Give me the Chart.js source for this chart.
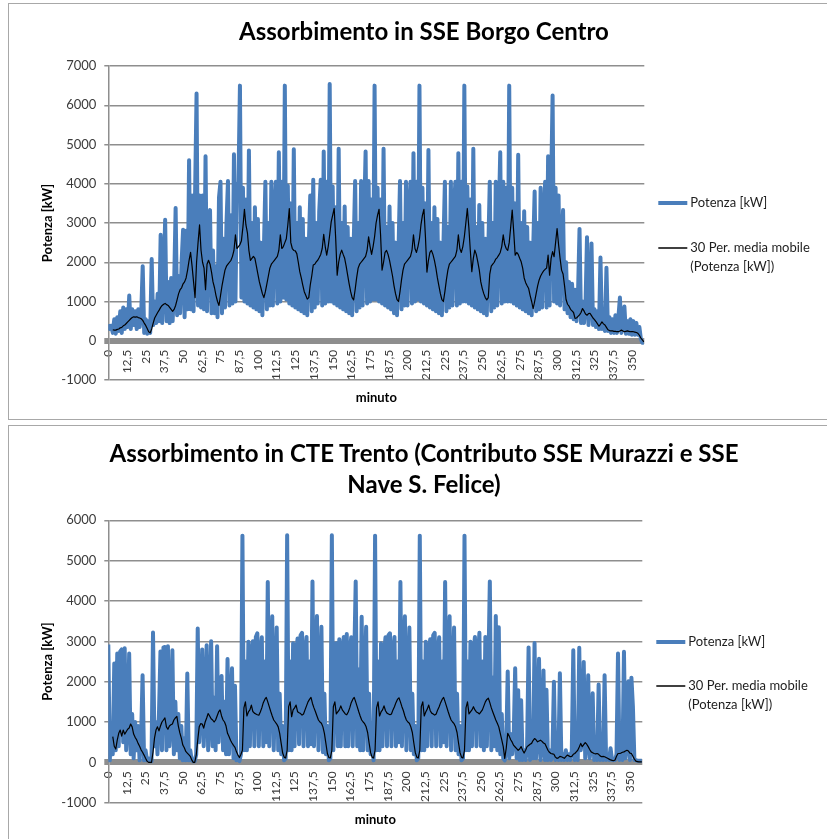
<!DOCTYPE html>
<html>
<head>
<meta charset="utf-8">
<script src="https://cdn.jsdelivr.net/npm/chart.js@4.4.1/dist/chart.umd.min.js"></script>
<style>
  html, body { margin: 0; padding: 0; background: #fff; width: 827px; height: 839px; overflow: hidden; position: relative; }
  .box { position: absolute; left: 8px; width: 830px; border: 1px solid #a8a8a8; background: #fff; }
  #box1 { top: 3px; height: 415px; }
  #box2 { top: 425px; height: 418px; }
  canvas { display: block; }
  .title { position: absolute; left: 0; width: 848px; text-align: center; color: #000;
           font-family: Lato, 'Open Sans', sans-serif; font-weight: bold; font-size: 24px; line-height: 31.3px;
           white-space: nowrap; }
  #t1 { top: 15px; }
  #t2 { top: 437px; }
</style>
</head>
<body>
<div class="box" id="box1"><canvas id="c1" width="830" height="415"></canvas></div>
<div class="box" id="box2"><canvas id="c2" width="830" height="418"></canvas></div>
<div class="title" id="t1">Assorbimento in SSE Borgo Centro</div>
<div class="title" id="t2">Assorbimento in CTE Trento (Contributo SSE Murazzi e SSE<br>Nave S. Felice)</div>
<script>
// Tick positions on the time axis (minutes)
const xTicks = [0, 12.5, 25, 37.5, 50, 62.5, 75, 87.5, 100, 112.5, 125, 137.5, 150, 162.5, 175,
  187.5, 200, 212.5, 225, 237.5, 250, 262.5, 275, 287.5, 300, 312.5, 325, 337.5, 350];

// SSE Borgo Centro - power per minute [kW]
const borgoPotenza = [
  420,300,380,200,550,180,600,250,750,200,
  850,300,800,350,1150,300,800,400,750,300,
  800,350,700,1900,200,550,180,500,200,2080,
  400,1000,450,1200,500,2700,450,1500,3080,500,
  1500,450,1600,500,1400,3380,650,1650,700,2000,
  2830,600,2800,800,4600,800,3700,750,3700,6300,
  900,3700,850,3700,800,4700,750,3200,3330,700,
  2300,700,1900,600,3650,4050,700,2600,850,3000,
  4070,900,3200,950,4750,1000,3900,4050,
  6500,1100,3900,1000,3600,950,4850,900,3000,850,
  3400,800,3100,750,2500,650,2300,4050,800,3000,
  900,4050,900,3200,4050,950,4800,1000,4050,1100,
  6500,1050,3950,950,3500,900,4880,850,3000,800,
  3400,750,3100,700,2600,650,2400,3700,750,4100,
  850,3000,950,3300,4100,900,4820,950,4050,1000,
  6540,1000,3930,950,3400,900,4890,850,3000,800,
  3420,750,2900,700,2600,650,2400,4070,750,3000,
  850,4070,900,3100,4820,950,4070,1000,3600,1050,
  6500,1050,3900,1000,3600,950,4890,900,2900,850,
  3420,800,3000,700,2500,650,2300,4070,800,3000,
  900,4050,900,3200,4050,950,4780,1000,4050,1050,
  6500,1000,3900,950,3500,900,4860,850,3000,800,
  3400,750,3100,700,2500,650,2400,4050,750,2900,
  850,4050,900,3300,4050,900,4780,950,4050,1000,
  6500,1000,3930,950,3600,900,4890,850,2900,800,
  3460,750,3000,700,2600,650,2300,4050,750,3000,
  850,4050,900,3100,4800,950,4050,1000,3900,1000,
  6500,1000,3900,950,3500,900,4740,850,3000,800,
  3300,750,2900,700,2500,650,2300,3800,750,3000,
  800,3900,850,3000,4050,850,4700,900,3900,
  6250,1000,3900,950,3700,900,2500,3330,800,2000,
  700,1500,600,1450,550,1300,500,1200,2850,450,
  1000,450,900,2640,400,950,2480,400,800,350,
  750,300,2120,300,650,250,1860,250,600,200,
  550,200,650,200,600,1100,200,550,870,180,
  500,180,550,150,500,150,450,150,350,50,
  -50,-50
];

// SSE Borgo Centro - 30-period moving average [kW]
const borgoMedia = [
  null,null,null,
  280,270,270,290,300,330,340,380,400,440,
  480,520,560,590,610,600,610,590,580,560,
  520,450,390,310,230,200,300,450,580,650,
  720,780,850,900,930,950,920,900,850,800,
  750,800,900,1050,1200,1300,1350,1450,1500,1600,
  1800,2050,2250,1900,1500,1100,2000,2500,2950,2300,
  2000,1850,1300,1950,2050,1950,1750,1500,1350,1150,
  1000,
  900,1150,1400,1600,1800,1900,1950,2000,2050,2150,
  2300,2700,2350,2400,2450,2550,2900,3350,2950,2750,
  2300,2050,2100,2150,2100,1900,1700,1500,1350,1200,
  1100,1250,1450,1650,1850,1950,2000,2050,2100,2150,
  2300,2700,2350,2400,2500,2600,2950,3370,2500,2350,
  2300,2290,2220,2000,1760,1600,1420,1250,1160,1060,
  1100,1420,1650,1930,1950,2010,2050,2120,2200,2350,
  2710,2400,2180,2400,2700,3030,3200,3370,2610,1670,
  2000,2200,2310,2200,2100,1900,1670,1450,1250,1100,
  1040,1300,1600,1850,1950,2000,2050,2100,2150,2300,
  2650,2400,2200,2400,2650,3000,3200,3350,2700,1800,
  2000,2250,2300,2200,2050,1850,1650,1400,1200,1050,
  1000,1250,1550,1800,1950,2000,2050,2100,2150,2300,
  2700,2350,2250,2400,2600,2950,3200,3350,2650,1750,
  2050,2250,2300,2200,2050,1850,1600,1400,1200,1050,
  1000,1250,1550,1800,1950,2000,2050,2100,2150,2300,
  2700,2350,2250,2400,2650,3000,3370,2900,2300,1760,
  2100,2310,2200,2010,1800,1500,1330,1200,1100,1040,
  1100,1700,1900,1950,2000,2080,2120,2180,2250,2400,
  2700,2450,2350,2300,2500,2900,3330,2780,2180,2250,
  2200,2100,2010,1850,1600,1480,1400,1330,1150,1000,
  820,1000,1200,1400,1550,1650,1720,1780,1820,1850,
  2180,1670,2100,2270,2140,2500,2860,2450,2100,1800,
  1700,1400,1050,930,880,800,760,720,570,580,
  620,660,720,820,760,680,650,690,700,640,
  580,540,490,430,370,420,480,430,400,340,
  280,260,250,250,240,240,230,230,250,270,
  250,230,240,250,240,230,230,230,220,210,
  190,140,70,20,-30
];

// CTE Trento - power per minute [kW]
const trentoPotenza = [
  2920,50,900,200,2450,300,2700,400,2750,2800,
  500,2830,300,1000,2700,200,1200,100,1000,300,
  900,50,600,2160,50,300,50,100,30,30,
  3220,400,1000,200,1200,2750,300,2850,2860,300,
  2880,400,1100,2780,200,1500,300,1200,100,900,
  50,600,50,2200,50,300,50,30,30,200,
  3320,500,1400,2800,400,1500,2900,300,1300,3000,
  400,1600,300,2880,500,1800,2140,300,1500,200,
  2560,200,1200,2330,100,1900,50,100,30,200,
  5620,300,2500,300,2990,400,2700,3000,400,3110,
  3200,400,2700,3100,400,2500,500,4470,400,2300,
  3620,300,2000,3340,300,1700,200,900,50,100,
  5630,300,2500,300,2950,400,2700,3070,450,3150,
  3210,400,2700,3110,400,2500,450,4480,400,2300,
  3630,300,2000,3360,250,1700,200,900,50,100,
  5630,300,2500,2950,400,3050,400,2700,3110,400,
  3180,400,2700,3100,400,2500,4480,400,2300,300,
  3610,300,2000,3360,300,1700,200,800,50,
  5620,300,2500,300,2950,400,2700,3100,400,3150,
  3200,400,2700,3110,400,2500,500,4470,400,2300,
  3620,300,2000,3340,300,1700,200,900,50,100,
  5620,300,2500,300,2990,400,2700,3050,400,3150,
  3210,400,2700,3100,400,2500,500,4470,400,2300,
  3620,300,2000,3340,300,1700,200,900,50,100,
  5620,300,2500,300,2990,400,2700,3110,400,2600,
  3210,400,2500,300,3110,400,2300,4480,300,2100,
  400,3630,300,3350,200,1200,100,50,400,2250,
  100,700,200,600,2330,100,1790,60,1540,60,
  300,60,400,2850,60,500,100,2960,100,600,
  2570,60,400,2280,60,1800,60,300,60,200,
  2000,60,100,60,2210,60,200,60,300,60,
  200,60,300,2780,60,400,60,2840,300,600,
  2490,100,500,2160,100,400,1710,60,200,60,
  1930,60,300,60,2160,60,100,60,350,60,
  60,60,200,2700,60,300,60,2740,100,400,
  2010,60,2100,1380,60,60,40,40,40,40
];

// CTE Trento - 30-period moving average [kW]
const trentoMedia = [
  null,null,null,
  640,400,330,550,720,800,650,800,700,760,
  820,850,950,880,700,620,560,470,400,310,
  250,180,100,30,0,0,0,250,600,800,
  880,780,900,1000,1050,1100,880,820,900,930,
  950,1050,1100,1140,900,730,600,430,360,270,
  230,190,150,60,0,0,180,550,880,960,
  950,850,1000,1100,1210,1150,1080,1050,1000,1050,
  1150,1250,1300,1150,1050,1000,900,720,640,550,
  480,420,370,260,180,120,200,
  300,1350,1500,1150,1250,1300,1420,1260,1220,1200,
  1180,1170,1250,1350,1480,1560,1610,1500,1380,1260,
  1150,1050,1000,950,880,720,470,230,130,110,
  300,1380,1500,1130,1300,1350,1420,1255,1230,1210,
  1170,1200,1300,1400,1500,1560,1610,1460,1350,1255,
  1150,1050,1000,970,880,720,470,220,120,110,
  300,1380,1500,1200,1250,1300,1400,1300,1250,1200,
  1180,1250,1350,1480,1560,1610,1500,1380,1260,1150,
  1050,1000,960,880,740,480,240,130,110,
  300,1350,1500,1150,1250,1300,1400,1280,1220,1200,
  1180,1200,1300,1380,1480,1560,1600,1500,1380,1280,
  1150,1050,1000,970,880,740,480,240,130,110,
  300,1380,1500,1150,1250,1320,1420,1280,1220,1200,
  1170,1200,1300,1380,1480,1560,1610,1500,1380,1260,
  1150,1050,1000,960,880,740,480,240,130,110,
  300,1350,1500,1200,1250,1300,1380,1300,1250,1230,
  1200,1250,1300,1400,1500,1560,1590,1480,1350,1250,
  1150,1050,970,880,720,560,390,100,350,720,
  650,560,500,420,380,340,300,330,390,300,
  230,300,390,420,450,470,540,590,560,510,
  530,550,520,480,460,380,300,250,220,210,
  200,130,100,110,150,140,120,100,140,180,
  160,140,150,200,220,260,300,380,470,390,
  440,490,450,390,320,260,240,220,210,220,
  200,160,140,150,140,120,100,80,60,50,
  40,60,150,220,220,230,250,260,280,300,
  280,230,220,150,80,30,20,10,10,10
];

const FONT = "Lato, 'Open Sans', sans-serif";
const BLUE = 'rgb(74,126,187)';
const GRID = '#8e8e8e';
const LABEL_POTENZA = 'Potenza [kW]';
const LABEL_MEDIA = ['30 Per. media mobile', '(Potenza [kW])'];

// Legend drawn to the right of the plot area, centred on it
const sideLegend = {
  id: 'sideLegend',
  afterDraw(chart, args, opts) {
    const { ctx, chartArea } = chart;
    const cy = (chartArea.top + chartArea.bottom) / 2;
    const x0 = chartArea.right + 14;
    ctx.save();
    ctx.font = '13px ' + FONT;
    ctx.fillStyle = '#1e1e1e';
    ctx.textBaseline = 'middle';
    ctx.textAlign = 'left';
    opts.entries.forEach((e, i) => {
      const ds = chart.data.datasets[i];
      const y = Math.round(cy + e.dy);
      ctx.strokeStyle = ds.borderColor;
      ctx.lineWidth = e.width;
      ctx.beginPath();
      ctx.moveTo(x0, y);
      ctx.lineTo(x0 + 29, y);
      ctx.stroke();
      e.lines.forEach((t, k) => ctx.fillText(t, x0 + 32, y + k * 19));
    });
    ctx.restore();
  }
};

function toPoints(arr) {
  return arr.map((v, i) => ({ x: i, y: v }));
}

function buildChart(id, s) {
  return new Chart(document.getElementById(id), {
    type: 'line',
    data: {
      datasets: [
        { label: LABEL_POTENZA, data: toPoints(s.potenza), borderColor: BLUE, borderWidth: 4,
          borderJoinStyle: 'round', pointRadius: 0, tension: 0, order: 2 },
        { label: LABEL_MEDIA.join(' '), data: toPoints(s.media), borderColor: '#000', borderWidth: 1.2,
          borderJoinStyle: 'round', pointRadius: 0, tension: 0, spanGaps: false, order: 1 }
      ]
    },
    options: {
      responsive: false,
      animation: false,
      events: [],
      layout: { padding: { left: 0, right: s.padRight, top: s.padTop, bottom: s.padBottom } },
      plugins: {
        legend: { display: false },
        tooltip: { enabled: false },
        title: { display: false },
        sideLegend: {
          entries: [
            { lines: [LABEL_POTENZA], dy: -20, width: 4 },
            { lines: LABEL_MEDIA, dy: 24.6, width: 1.5 }
          ]
        }
      },
      scales: {
        x: {
          type: 'linear', position: { y: 0 }, min: 0, max: 358.3,
          afterBuildTicks: sc => { sc.ticks = xTicks.map(v => ({ value: v })); },
          grid: { display: false, drawTicks: false },
          border: { display: false },
          ticks: {
            autoSkip: false, maxRotation: 90, minRotation: 90, padding: 9,
            color: '#3b3b3b', font: { family: FONT, size: 12 },
            callback: v => String(v).replace('.', ',')
          },
          title: { display: true, text: 'minuto', color: '#000',
            font: { family: FONT, size: 13, weight: 'bold' }, padding: { top: 1, bottom: 0 } }
        },
        y: {
          min: s.yMin, max: s.yMax,
          afterFit: sc => { sc.width = 99.3; },
          ticks: { stepSize: 1000, color: '#3b3b3b', font: { family: FONT, size: 13 }, padding: 8,
            callback: v => String(v) },
          grid: { color: GRID, lineWidth: c => (c.tick && c.tick.value === 0 ? 6 : 1.5), tickLength: 4 },
          border: { display: true, color: GRID, width: 1.5 },
          title: { display: true, text: 'Potenza [kW]', color: '#000',
            font: { family: FONT, size: 13, weight: 'bold' }, padding: { top: 31, bottom: 0 } }
        }
      }
    },
    plugins: [sideLegend]
  });
}

function draw() {
  Chart.defaults.font.family = FONT;
  buildChart('c1', {
    potenza: borgoPotenza, media: borgoMedia,
    yMin: -1000, yMax: 7000,
    padRight: 194.7, padTop: 62, padBottom: 39
  });
  buildChart('c2', {
    potenza: trentoPotenza, media: trentoMedia,
    yMin: -1000, yMax: 6000,
    padRight: 196.7, padTop: 94.3, padBottom: 41.3
  });
}

Promise.all(['bold 24px Lato', '13px Lato', 'bold 13px Lato', '12px Lato'].map(f => document.fonts.load(f)))
  .catch(() => {})
  .then(draw);
</script>
</body>
</html>
